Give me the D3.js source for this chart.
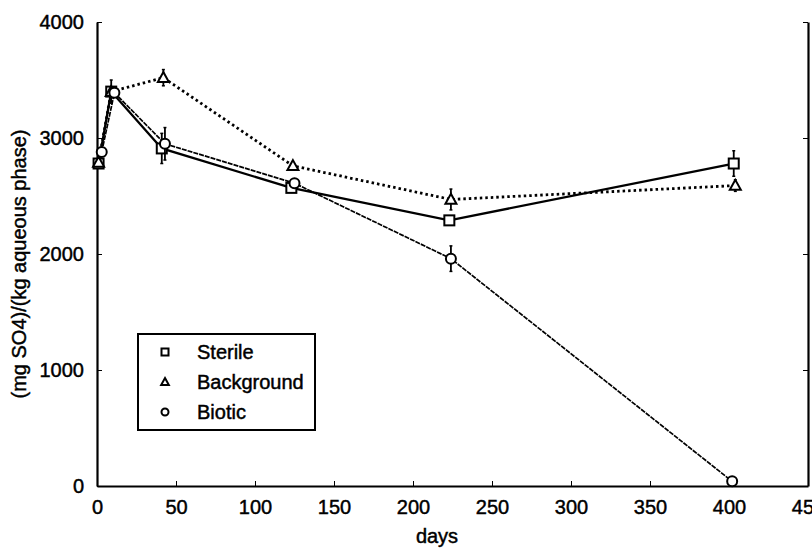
<!DOCTYPE html>
<html><head><meta charset="utf-8">
<script src="https://cdn.jsdelivr.net/npm/d3@7"></script>
<style>body{margin:0;background:#fff}svg text{font-family:Arial,"Liberation Sans",Helvetica,sans-serif;fill:#000;stroke:#000;stroke-width:0.45px}</style>
</head><body><svg id="c" width="812" height="550"></svg>
<script>
const xTicks = [0, 50, 100, 150, 200, 250, 300, 350, 400, 450];
const yTicks = [0, 1000, 2000, 3000, 4000];
const seriesNames = ["Sterile", "Background", "Biotic"];
const sterileDays = [1, 9, 41, 123, 223, 403];
const sterileVals = [2780, 3400, 2910, 2570, 2290, 2780];
const sterileErr  = [0, 40, 130, 30, 30, 110];
const backgroundDays = [1, 9, 42, 124, 224, 404];
const backgroundVals = [2790, 3400, 3520, 2760, 2470, 2590];
const backgroundErr  = [0, 100, 70, 0, 90, 50];
const bioticDays = [3, 11, 43, 125, 224, 402];
const bioticVals = [2880, 3390, 2950, 2610, 1960, 40];
const bioticErr  = [0, 0, 140, 0, 110, 0];

const svg = d3.select("#c");
const x = d3.scaleLinear().domain([0, 450]).range([97, 808]);
const y = d3.scaleLinear().domain([0, 4000]).range([486, 22]);

const series = [
  {name: seriesNames[0], days: sterileDays, vals: sterileVals, err: sterileErr, marker: "square", dash: null, w: 2.3},
  {name: seriesNames[1], days: backgroundDays, vals: backgroundVals, err: backgroundErr, marker: "triangle", dash: "2.5,3", w: 2.8},
  {name: seriesNames[2], days: bioticDays, vals: bioticVals, err: bioticErr, marker: "circle", dash: "5,1", w: 1.7}
];

// axes
const xAxis = d3.axisBottom(x).tickValues(xTicks).tickSizeInner(-5).tickSizeOuter(0).tickPadding(14).tickFormat(d3.format("d"));
const gx = svg.append("g").attr("transform", `translate(0,${y(0)})`).call(xAxis);
gx.select(".domain").attr("stroke-width", 2.2);
gx.selectAll("text").attr("font-size", 20);

const yAxis = d3.axisLeft(y).tickValues(yTicks).tickSizeInner(-5).tickSizeOuter(0).tickPadding(13).tickFormat(d3.format("d"));
const gy = svg.append("g").attr("transform", `translate(${x(0)},0)`).call(yAxis);
gy.select(".domain").attr("stroke-width", 2.2);
gy.selectAll("text").attr("font-size", 20);

const yAxisR = d3.axisRight(y).tickValues(yTicks).tickSizeInner(-5).tickSizeOuter(0).tickFormat("");
const gr = svg.append("g").attr("transform", `translate(${x(450)},0)`).call(yAxisR);
gr.select(".domain").attr("stroke-width", 2.2);

svg.append("text").attr("transform", `translate(26,${(y(0)+y(4000))/2+10}) rotate(-90)`)
  .attr("text-anchor", "middle").attr("font-size", 20).text("(mg SO4)/(kg aqueous phase)");
svg.append("text").attr("x", 437).attr("y", 543).attr("text-anchor", "middle").attr("font-size", 20).text("days");

function drawMarker(g, type, cx, cy, s) {
  if (type === "square") {
    g.append("rect").attr("x", cx - s/2).attr("y", cy - s/2).attr("width", s).attr("height", s)
      .attr("fill", "#fff").attr("stroke", "#000").attr("stroke-width", 2);
  } else if (type === "triangle") {
    const h = s * 0.95;
    g.append("path").attr("d", `M${cx},${cy - h*0.6}L${cx + s*0.55},${cy + h*0.45}L${cx - s*0.55},${cy + h*0.45}Z`)
      .attr("fill", "#fff").attr("stroke", "#000").attr("stroke-width", 2);
  } else {
    g.append("circle").attr("cx", cx).attr("cy", cy).attr("r", s/2)
      .attr("fill", "#fff").attr("stroke", "#000").attr("stroke-width", 2);
  }
}

const line = d3.line().x(d => x(d[0])).y(d => y(d[1]));
series.forEach(s => {
  const pts = s.days.map((d, i) => [d, s.vals[i], s.err[i]]);
  svg.append("path").datum(pts).attr("d", line).attr("fill", "none").attr("stroke", "#000")
    .attr("stroke-width", s.w).attr("stroke-dasharray", s.dash);
});
series.forEach(s => {
  const g = svg.append("g");
  s.days.forEach((d, i) => {
    const e = s.err[i];
    if (e > 0) {
      g.append("line").attr("x1", x(d)).attr("x2", x(d)).attr("y1", y(s.vals[i] - e)).attr("y2", y(s.vals[i] + e))
        .attr("stroke", "#000").attr("stroke-width", 1.8);
      [s.vals[i] - e, s.vals[i] + e].forEach(v => g.append("line").attr("x1", x(d) - 1.5).attr("x2", x(d) + 1.5)
        .attr("y1", y(v)).attr("y2", y(v)).attr("stroke", "#000").attr("stroke-width", 1.5));
    }
    drawMarker(g, s.marker, x(d), y(s.vals[i]), 10);
  });
});

// legend
const lg = svg.append("g");
lg.append("rect").attr("x", 138).attr("y", 334).attr("width", 177).attr("height", 96)
  .attr("fill", "#fff").attr("stroke", "#000").attr("stroke-width", 2);
series.forEach((s, i) => {
  const cy = 352 + i * 30;
  drawMarker(lg, s.marker, 165, cy, 7);
  lg.append("text").attr("x", 197).attr("y", cy + 7).attr("font-size", 20).text(s.name);
});
</script></body></html>
